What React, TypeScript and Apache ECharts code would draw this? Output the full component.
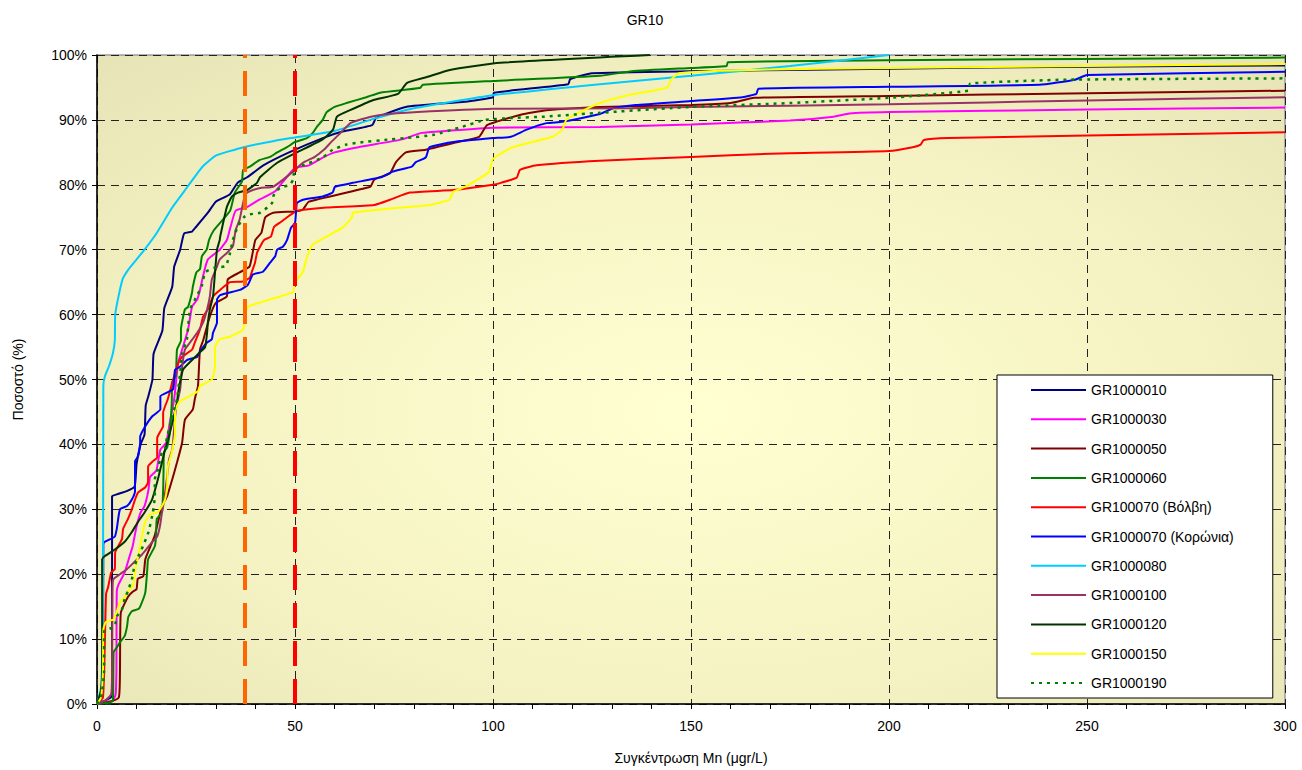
import React, { useEffect, useRef } from "react";
import * as echarts from "echarts";

const xTickValues = [0, 50, 100, 150, 200, 250, 300];
const yTickValues = [0, 10, 20, 30, 40, 50, 60, 70, 80, 90, 100];
const seriesNames = [
  "GR1000010",
  "GR1000030",
  "GR1000050",
  "GR1000060",
  "GR100070 (Βόλβη)",
  "GR1000070 (Κορώνια)",
  "GR1000080",
  "GR1000100",
  "GR1000120",
  "GR1000150",
  "GR1000190",
];
const thresholds = [37.4, 50];

const gr1000010 = [[0,0],[2,0.5],[3.5,1],[3.8,2],[3.8,32],[5,32.3],[7.5,32.8],[9.5,33.5],[10,37],[11,40],[12,41.5],[12.3,46],[13,47.5],[14,50],[14.3,54],[16.5,57.5],[17,61],[19,64.3],[19.5,67.4],[21,70],[22,72.5],[24,72.8],[25,73.5],[28,75.7],[30,77.4],[33.5,78.5],[35.5,80.3],[38,81.2],[42,83],[48.5,85],[57,87.2],[62,88.2],[69.5,89.2],[70.5,90.3],[78,92],[93,92.8],[100,93.5],[100.2,94.2],[119,95.5],[119.5,96.3],[125,97.2],[150,97.5],[200,97.9],[250,98.2],[300,98.4]];
const gr1000030 = [[0,0],[2,0.3],[4,0.5],[4.7,1.5],[4.9,5],[5,17.4],[5.5,18.5],[7,20.3],[8,22.3],[9,24.3],[10,27.4],[11,29.5],[12,30.5],[13,33],[13.4,35],[15,36],[16,39.2],[17.5,40.3],[18.5,43.8],[19.5,47],[20.5,52.6],[21.5,54.6],[23,57.7],[24,61.2],[25.3,62.3],[26,63.8],[27,66.5],[28,68.5],[31,70],[32.8,71.5],[33.5,73],[35,76],[38,76.6],[41,77.7],[45,79],[47,80.5],[50,82.6],[53.5,83],[57,84.2],[60,85],[66,85.8],[77,87],[82,88],[88,88.3],[100,88.8],[127,88.9],[150,89.3],[175,89.9],[186,90.5],[190,91],[200,91.2],[250,91.6],[300,91.9]];
const gr1000050 = [[0,0],[3,0.3],[5.5,1],[5.8,5],[6,14],[7.8,16.5],[9,17.3],[10,17.7],[10.3,19.3],[11.7,19.7],[12.2,22.3],[13.5,24.3],[14.5,25.8],[15.4,28],[16.4,30.5],[17.7,32],[19,34.6],[20.2,37.2],[21.5,40.3],[22.2,43.8],[24.2,45.4],[24.7,47],[25.5,49],[26,54.6],[26.8,56],[28.5,59.7],[30,61.8],[32.8,62.8],[33,65.4],[36,66.5],[38.5,67.4],[39.3,69.5],[40,71.5],[41.5,72.6],[42.5,75],[44.5,75.7],[50,75.9],[52,76.2],[53.5,77.4],[69,79.7],[70,80.8],[74,81.8],[75.5,83.5],[78,85],[83,85.4],[90.5,86.5],[96.5,87.4],[98.5,89.2],[107,90.8],[113.5,91.5],[127,92],[150,92.3],[160,92.6],[166,93.4],[200,93.7],[250,94.1],[300,94.5]];
const gr1000060 = [[0,0],[4,0.5],[4.2,8],[5,8.7],[5.8,9.5],[7,10.5],[7.6,12],[7.9,13.4],[8.8,14.3],[10.4,14.6],[10.9,15],[12.2,17.2],[12.7,20.8],[12.9,22.3],[14.6,24.3],[14.9,25.8],[15.1,28.5],[16.4,29.5],[16.7,33],[16.8,35.7],[16.9,38.8],[17.7,39.5],[18.4,41.8],[18.7,44.3],[18.9,47],[18.9,49.5],[19.9,50.5],[20.2,54.6],[21.2,56],[21.2,57.7],[22.2,60.8],[23,61.2],[24,63.4],[24.2,64.3],[25.1,66.5],[26,67],[26.5,69],[27.7,70],[28.3,71.5],[29.5,73],[33.6,76],[34.8,78.8],[36.6,80.5],[36.9,82.3],[38.6,82.8],[41,83.8],[43.7,84.3],[45.5,85],[48,85.8],[50,86.6],[53,87.2],[54.5,88],[55.6,89],[57,90],[58,91.2],[60,92],[63,92.6],[68,93.5],[71.5,94.2],[81.5,94.9],[82.3,95.4],[100,96],[127,96.8],[135,97.5],[150,98],[159,98.3],[159.3,98.9],[200,99.2],[300,99.6]];
const gr100070 = [[0,0],[1.5,1],[2,10],[2.3,17],[2.8,18],[3.3,19.5],[3.6,20.3],[4.5,20.8],[4.6,23.4],[6.3,25.4],[6.6,27],[7.8,28.5],[8.8,30],[9.6,31.5],[10.4,32.6],[12.2,33.4],[12.9,34.2],[12.9,36.6],[14.1,37.4],[15.2,38],[15.2,41],[16,42],[16.7,42.8],[16.7,44.9],[17.9,47],[19,49.5],[20.5,52.5],[21.5,53.5],[24,54.6],[24.7,55.7],[25.3,56.6],[26,57.7],[26.8,59.7],[28,60.8],[29.3,62.8],[30.5,63.5],[33.6,65],[36.9,65.1],[38.6,65.7],[39.1,66.6],[39.9,68],[40.4,69.5],[41.2,70.5],[42.2,71.5],[43.9,72],[44.7,73.5],[46.5,74.3],[48,75],[49.7,75.7],[50.5,76],[58,76.5],[70,76.9],[74,77.7],[79,78.8],[90,79.2],[100,80],[102,80.3],[106,81.1],[106.8,82.3],[111,83],[127,83.7],[150,84.3],[170,84.8],[200,85.2],[206,85.8],[208,86.2],[208.8,86.9],[215,87.2],[250,87.6],[300,88.1]];
const gr1000070 = [[0,0],[1,1],[1.5,5],[1.6,24.6],[2,25],[4.5,25.8],[5,27],[5.8,30],[7.6,30.5],[8.8,31.5],[9.6,32.8],[9.6,37.4],[10.4,38.2],[10.9,40.3],[10.9,41.2],[12.2,42.8],[13.9,44.3],[16,45.4],[16,47.4],[19.2,48.5],[19.7,51.5],[21,52],[22.7,53],[25.3,53.5],[26,54.3],[26.8,55],[27.8,55.7],[29,56.2],[29.3,57.2],[30.3,58.8],[30.3,62.3],[31.1,63],[36.1,63.8],[38.1,64.6],[39.4,66.2],[41.9,66.6],[43.7,68],[45,69],[45.5,70],[47,70.5],[48,71.5],[49,73.4],[50,74.1],[50.3,76.2],[50.5,77.2],[52,77.7],[57,78.2],[59.5,78.8],[60.1,79.7],[64.6,80.3],[72,81.2],[74.5,82],[79.5,82.8],[80.5,83.5],[83,84.2],[84,85.8],[90,86.6],[100,87.2],[104.5,87.4],[108.5,88.5],[113.5,89.5],[117.5,89.7],[127,90.9],[128.5,91.3],[130.3,91.8],[136,92.3],[150,92.9],[163,93.5],[166.5,94],[167,94.8],[200,95.1],[238,95.4],[247,96.2],[250,96.9],[300,97.4]];
const gr1000080 = [[0,0],[1,2.5],[1.5,10],[1.6,49],[2,50.5],[3,52],[4,54],[4.5,56],[4.6,60],[5.5,63],[6.5,65.5],[8,67],[10,68.5],[12,70],[15,72.5],[19,76.5],[22,79],[25,81.5],[27,83],[30,84.5],[37,85.8],[45,86.8],[50,87.3],[60,88.3],[70,90.2],[80,91.8],[100,93.8],[127,95.5],[150,96.8],[175,98.3],[200,100]];
const gr1000100 = [[0,0],[2,0.5],[3.6,1.5],[3.8,5],[3.9,17.2],[4.1,19.2],[5.8,20],[7.6,20.8],[9.3,21.8],[11,22.8],[12.4,23.8],[14,25],[15.2,25.8],[15.9,27.4],[16.4,29.5],[17,31.5],[17.2,32.6],[17.7,35],[18.2,37.7],[19,39.2],[19.4,41.8],[19.9,45.4],[21,48.5],[21.5,52],[22.2,54.6],[23.5,55.7],[25.3,57.2],[26.8,58.8],[27.8,60.8],[28.5,62.8],[29,65.4],[30.3,67.4],[31,68.5],[32.8,69.5],[34.3,70.5],[35,73],[36,74.6],[37.4,78.5],[38.6,79],[41.2,79.5],[44.5,79.7],[47,80.8],[50,82.3],[52,83.4],[55,84.3],[57.5,85.5],[59,86.5],[61.5,88],[64,89.5],[68,90.3],[72,90.8],[81,91.2],[100,91.7],[135,91.8],[150,92],[200,92.4],[250,93],[300,93.5]];
const gr1000120 = [[0,0],[1,2],[1.3,5],[1.3,22.3],[2,22.8],[4.5,23.8],[7,25],[8.8,26.5],[10.3,28],[12,29.5],[13.9,31.5],[15.2,34.2],[16,36.2],[17.2,39.2],[18.4,41.8],[19.2,43.8],[20.2,46.5],[20.5,48],[21.7,51.5],[24,53],[26,54.2],[27.3,55],[27.8,57.2],[28,58.8],[28.5,60.8],[29.3,62.8],[29.8,66.5],[30.3,70],[31,71.5],[31.1,72],[32.8,76.6],[34.1,78.2],[35.6,78.8],[37.9,79.2],[40.4,80.3],[41.2,81.2],[45.5,83.4],[50.5,85],[57,87],[59.6,88.5],[60.6,90.5],[63.9,91.5],[69.5,93],[76,94],[78.3,95.7],[83.3,96.6],[89.1,97.7],[101.8,98.8],[139.6,100]];
const gr1000150 = [[0,0],[1,1],[1.5,5],[1.6,11.5],[2.2,12.6],[3.5,12.9],[4.2,13],[5,14.2],[5.8,15.7],[7,16.5],[8,17.5],[9.1,18.2],[9.6,20.3],[10.1,22],[10.5,23],[10.9,24.3],[11.6,26.5],[12.1,28],[13.4,29.2],[15.2,29.5],[16.4,30.5],[17.2,31.5],[17.7,33.5],[17.9,36.6],[18.9,38.8],[19.7,41.8],[19.7,44.9],[20.7,46.5],[25.5,48.2],[26,49],[29,50],[29.8,52],[29.8,55],[31,56.2],[33.6,56.6],[36.9,57.7],[37.4,59.7],[38.1,61.2],[41.9,62],[46.2,62.8],[49.5,63.5],[50,64.9],[52,66.6],[53,68.8],[54.5,70.8],[62,73.4],[64.4,75],[64.6,75.7],[71.5,76.2],[84,76.9],[89,77.7],[89.9,78.9],[93,79.7],[99,82],[100,84],[105,85.8],[115,87.4],[117.5,88.5],[118.5,90],[122,91.2],[127,92.6],[134,93.8],[144,95],[145,96.2],[147,97.2],[165,97.7],[200,98],[250,98.3],[300,98.6]];
const gr1000190 = [[0,0],[1,1],[1.8,5],[1.8,11.2],[2.8,11.5],[4.5,12],[5,13.5],[6.3,14.6],[7,16.2],[7.8,17.4],[8.8,19.2],[9.3,20.8],[10.1,22.3],[11.6,24.3],[13,26.5],[14.1,29.5],[14.6,32],[14.6,34.6],[15.4,36.2],[16.4,38.8],[17.2,39.5],[17.7,41.2],[18.4,42.8],[18.9,44.3],[19.7,45.8],[20.2,47],[21,51],[21.5,54],[22.7,56.2],[23,58],[23.5,60.8],[25,62.6],[26.5,64.5],[27.3,66.5],[29.5,67.2],[32.5,67.5],[33.6,69.5],[34.3,71.5],[35.5,73.5],[37.1,75],[38.1,75.4],[41.2,75.7],[43,76.5],[44.2,77.2],[44.5,78.2],[45,78.9],[46.2,79.5],[48.7,80],[49.5,80.8],[50,82.8],[52,83],[57,84.2],[59.5,85.4],[63,86.2],[66,86.5],[74,87],[78,87.2],[85,87.7],[92,88.9],[98,90],[105,90.3],[113,90.5],[127,91.1],[150,92],[175,92.6],[200,93.4],[220,94.5],[220.5,95.6],[245,96.2],[300,96.4]];

const seriesData = [gr1000010, gr1000030, gr1000050, gr1000060, gr100070, gr1000070, gr1000080, gr1000100, gr1000120, gr1000150, gr1000190];
const seriesColors = ["#000080", "#FF00FF", "#800000", "#008000", "#FF0000", "#0000FF", "#00CCFF", "#993366", "#003300", "#FFFF00", "#008000"];

const FONT = "Liberation Sans, Arial, sans-serif";

export default function App() {
  const ref = useRef<HTMLDivElement>(null);
  useEffect(() => {
    if (!ref.current) return;
    const chart = echarts.init(ref.current, null, { renderer: "svg" });
    const series: any[] = seriesNames.map((name, i) => ({
      name,
      type: "line",
      data: seriesData[i],
      symbol: "none",
      showSymbol: false,
      smooth: 0.15,
      lineStyle: {
        color: seriesColors[i],
        width: i === 10 ? 2.5 : 2,
        type: i === 10 ? [3, 5] : "solid",
      },
      itemStyle: { color: seriesColors[i] },
      z: 2,
    }));
    series[series.length - 1].markLine = {
      silent: true,
      symbol: ["none", "none"],
      label: { show: false },
      animation: false,
      lineStyle: { width: 4, type: [25, 13] },
      data: [
        { xAxis: thresholds[0], lineStyle: { color: "#FF6600", width: 4, type: [25, 13] } },
        { xAxis: thresholds[1], lineStyle: { color: "#FF0000", width: 4, type: [25, 13] } },
      ],
    };
    chart.setOption({
      animation: false,
      backgroundColor: "#ffffff",
      textStyle: { fontFamily: FONT },
      title: {
        text: "GR10",
        left: 640,
        top: 8,
        textAlign: "center",
        textStyle: { fontSize: 14, fontWeight: "normal", color: "#000", fontFamily: FONT },
      },
      grid: {
        left: 97,
        right: 17,
        top: 55,
        bottom: 58,
        show: true,
        borderColor: "#9a9a9a",
        borderWidth: 1.5,
        backgroundColor: new echarts.graphic.RadialGradient(0.5, 0.55, 1.0, [
          { offset: 0, color: "#FFFFD2" },
          { offset: 0.45, color: "#F4F2C2" },
          { offset: 1, color: "#DAD8AC" },
        ]),
      },
      legend: {
        orient: "vertical",
        left: 997,
        top: 375,
        padding: [8, 39, 8, 33],
        itemWidth: 55,
        itemHeight: 14,
        itemGap: 15.3,
        backgroundColor: "#ffffff",
        borderColor: "#000",
        borderWidth: 1,
        itemStyle: { opacity: 0, borderWidth: 0 },
        textStyle: { fontSize: 14, color: "#000", fontFamily: FONT },
        data: seriesNames,
      },
      xAxis: {
        type: "value",
        min: 0,
        max: 300,
        interval: 50,
        name: "Συγκέντρωση Mn (μgr/L)",
        nameLocation: "middle",
        nameGap: 47,
        nameTextStyle: { fontSize: 14, color: "#000", fontFamily: FONT },
        axisLine: { show: true, onZero: false, lineStyle: { color: "#000", width: 1.5 } },
        axisTick: { show: true, length: 5, lineStyle: { color: "#000" } },
        minorTick: { show: true, splitNumber: 5, length: 5, lineStyle: { color: "#000" } },
        axisLabel: {
          fontSize: 14,
          color: "#000",
          margin: 15,
          fontFamily: FONT,
          formatter: (v: number) => (xTickValues.includes(v) ? String(v) : ""),
        },
        splitLine: { show: true, lineStyle: { color: "#222", width: 1, type: [8, 6] } },
      },
      yAxis: {
        type: "value",
        min: 0,
        max: 100,
        interval: 10,
        name: "Ποσοστό (%)",
        nameLocation: "middle",
        nameGap: 72,
        nameRotate: 90,
        nameTextStyle: { fontSize: 14, color: "#000", fontFamily: FONT },
        axisLine: { show: true, onZero: false, lineStyle: { color: "#000", width: 1.5 } },
        axisTick: { show: true, length: 5, lineStyle: { color: "#000" } },
        axisLabel: {
          fontSize: 14,
          color: "#000",
          margin: 10,
          fontFamily: FONT,
          formatter: (v: number) => (yTickValues.includes(v) ? v + "%" : ""),
        },
        splitLine: { show: true, lineStyle: { color: "#222", width: 1, type: [8, 6] } },
      },
      series,
    });
    return () => chart.dispose();
  }, []);
  return <div ref={ref} style={{ width: 1302, height: 770, position: "absolute", left: 0, top: 0 }} />;
}
